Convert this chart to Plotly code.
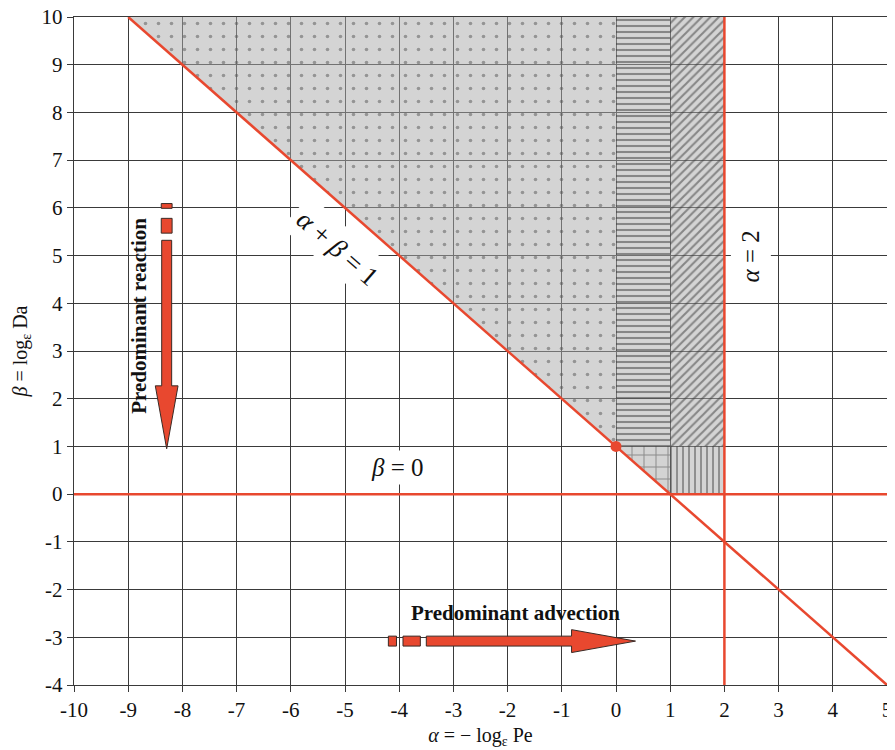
import plotly.graph_objects as go

# ---- data ----
x_ticks = [-10, -9, -8, -7, -6, -5, -4, -3, -2, -1, 0, 1, 2, 3, 4, 5]
x_tick_labels = ["-10", "-9", "-8", "-7", "-6", "-5", "-4", "-3", "-2", "-1", "0", "1", "2", "3", "4", "5"]
y_ticks = [-4, -3, -2, -1, 0, 1, 2, 3, 4, 5, 6, 7, 8, 9, 10]
y_tick_labels = ["-4", "-3", "-2", "-1", "0", "1", "2", "3", "4", "5", "6", "7", "8", "9", "10"]

# region polygons (alpha, beta)
dotted_a = [-9, 0, 0, -9]
dotted_b = [10, 1, 10, 10]
hlines_a = [0, 1, 1, 0, 0]
hlines_b = [1, 1, 10, 10, 1]
diag_a = [1, 2, 2, 1, 1]
diag_b = [1, 1, 10, 10, 1]
cross_a = [0, 1, 1, 0]
cross_b = [1, 1, 0, 1]
vlines_a = [1, 2, 2, 1, 1]
vlines_b = [0, 0, 1, 1, 0]

# red boundary lines
sum_line_a = [-9, 5]
sum_line_b = [10, -4]
beta0_a = [-10, 5]
beta0_b = [0, 0]
alpha2_a = [2, 2]
alpha2_b = [-4, 10]
point_a = [0]
point_b = [1]

# arrows
reaction_x = -8.29
reaction_dashes = [(6.09, 5.99), (5.78, 5.47)]
reaction_shaft = (5.32, 2.27)
reaction_tip = 0.95
advection_y = -3.08
advection_dashes = [(-4.20, -4.05), (-3.93, -3.61)]
advection_shaft = (-3.50, -0.82)
advection_tip = 0.36

RED = "#e8482f"
GRID = "#3a3a3a"
FONT = "Liberation Serif"
INK = "#111111"

fig = go.Figure()

def region(a, b, shape, size, solidity, bg="rgba(170,170,170,0.5)", fg="#3a3a3a"):
    fig.add_trace(go.Scatter(
        x=a, y=b, mode="lines", fill="toself", line=dict(width=0),
        fillcolor=bg,
        fillpattern=dict(shape=shape, size=size, solidity=solidity, bgcolor=bg, fgcolor=fg, fillmode="overlay"),
        hoverinfo="skip", showlegend=False))

region(dotted_a, dotted_b, ".", 13, 0.06, fg="#555555")
region(hlines_a, hlines_b, "-", 6, 0.35)
region(diag_a, diag_b, "/", 6, 0.35)
region(cross_a, cross_b, "+", 12, 0.15)
region(vlines_a, vlines_b, "|", 6, 0.3)

for a, b in [(sum_line_a, sum_line_b), (beta0_a, beta0_b), (alpha2_a, alpha2_b)]:
    fig.add_trace(go.Scatter(x=a, y=b, mode="lines", line=dict(color=RED, width=2.5),
                             hoverinfo="skip", showlegend=False))

fig.add_trace(go.Scatter(x=point_a, y=point_b, mode="markers",
                         marker=dict(color=RED, size=11), hoverinfo="skip", showlegend=False))

def poly(xs, ys):
    fig.add_trace(go.Scatter(x=xs, y=ys, mode="lines", fill="toself", fillcolor=RED,
                             line=dict(color="#3a2a25", width=1), hoverinfo="skip", showlegend=False))

# vertical arrow (down)
dw, sw, hw = 0.10, 0.092, 0.21
for top, bot in reaction_dashes:
    poly([reaction_x - dw, reaction_x + dw, reaction_x + dw, reaction_x - dw, reaction_x - dw],
         [top, top, bot, bot, top])
st, sb = reaction_shaft
poly([reaction_x - sw, reaction_x + sw, reaction_x + sw, reaction_x + hw, reaction_x,
      reaction_x - hw, reaction_x - sw, reaction_x - sw],
     [st, st, sb, sb, reaction_tip, sb, sb, st])

# horizontal arrow (right)
dh, sh, hh = 0.104, 0.104, 0.24
for l, r in advection_dashes:
    poly([l, r, r, l, l],
         [advection_y - dh, advection_y - dh, advection_y + dh, advection_y + dh, advection_y - dh])
sl, sr = advection_shaft
poly([sl, sr, sr, advection_tip, sr, sr, sl, sl],
     [advection_y + sh, advection_y + sh, advection_y + hh, advection_y,
      advection_y - hh, advection_y - sh, advection_y - sh, advection_y + sh])

fig.add_annotation(x=-5.14, y=5.15, text="<i>α</i> + <i>β</i> = 1", textangle=41.4,
                   showarrow=False, bgcolor="white", font=dict(family=FONT, size=27, color=INK), borderpad=6)
fig.add_annotation(x=2.48, y=4.99, text="<i>α</i> = 2", textangle=-90,
                   showarrow=False, bgcolor="white", font=dict(family=FONT, size=25, color=INK), borderpad=6)
fig.add_annotation(x=-4.04, y=0.56, text="<i>β</i> = 0",
                   showarrow=False, bgcolor="white", font=dict(family=FONT, size=25, color=INK), borderpad=3)
fig.add_annotation(x=-8.79, y=3.73, text="<b>Predominant reaction</b>", textangle=-90,
                   showarrow=False, font=dict(family=FONT, size=21, color=INK))
fig.add_annotation(x=-1.85, y=-2.49, text="<b>Predominant advection</b>",
                   showarrow=False, font=dict(family=FONT, size=21, color=INK))

axis_common = dict(showgrid=True, gridcolor=GRID, gridwidth=1.4, showline=True, mirror=True,
                   linecolor=GRID, linewidth=1.4, ticks="outside", ticklen=6, tickcolor=GRID,
                   zeroline=False, automargin=False, ticklabeloverflow="allow",
                   tickfont=dict(family=FONT, size=21, color=INK))

fig.update_xaxes(range=[-10, 5], tickvals=x_ticks, ticktext=x_tick_labels,
                 title=dict(text="<i>α</i> = − log<sub>ε</sub> Pe", font=dict(family=FONT, size=20, color=INK), standoff=6),
                 **axis_common)
fig.update_yaxes(range=[-4, 10], tickvals=y_ticks, ticktext=y_tick_labels,
                 title=dict(text="<i>β</i> = log<sub>ε</sub> Da", font=dict(family=FONT, size=20, color=INK), standoff=8),
                 **axis_common)

fig.update_layout(width=895, height=750, margin=dict(l=66, r=16, t=9, b=73),
                  plot_bgcolor="white", paper_bgcolor="white", showlegend=False)

fig.write_html("out.html")
